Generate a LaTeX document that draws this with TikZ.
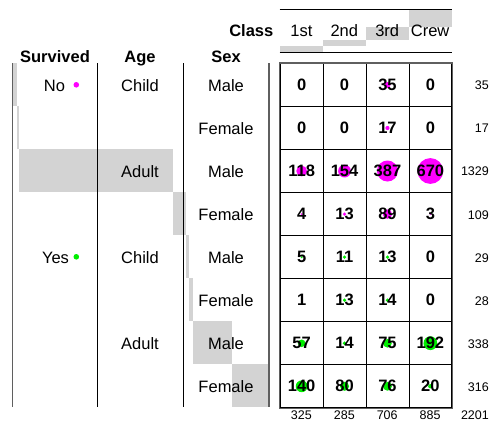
\documentclass[tikz,border=0pt]{standalone}
\usepackage{fontspec}
\setmainfont{Liberation Sans}
\usepackage{tikz}
\usetikzlibrary{backgrounds, matrix}
\definecolor{died}{RGB}{255,0,255}
\definecolor{lived}{RGB}{0,238,0}
\definecolor{bargray}{RGB}{211,211,211}
\definecolor{rulegray}{RGB}{95,95,95}
\tikzstyle{hdr} = [font=\fontsize{16.5}{18}\selectfont\bfseries, anchor=base, inner sep=0pt]
\tikzstyle{lbl} = [font=\fontsize{16.5}{18}\selectfont, anchor=base, inner sep=0pt]
\tikzstyle{tot} = [font=\fontsize{12.5}{14}\selectfont, anchor=base east, inner sep=0pt]
\tikzstyle{bar} = [fill=bargray, draw=none]
\tikzstyle{sep} = [draw=black, line width=0.8pt]
\tikzstyle{dot} = [circle, inner sep=0pt, minimum size=5.6pt]
\begin{document}
\begin{tikzpicture}[x=1pt, y=-1pt]
\useasboundingbox (0,0) rectangle (502,427);

% counts, magenta = No, green = Yes
\matrix [matrix of nodes, anchor=north west, inner sep=0pt, column sep=-0.8pt, row sep=-0.8pt, nodes={draw=black, line width=0.8pt, minimum width=42.9pt, minimum height=43pt, inner sep=0pt, outer sep=0pt, font=\fontsize{16.5}{18}\selectfont\bfseries}] (cells) at (279.6,62.9)
{
	0 & 0 & 35 & 0 \\
	0 & 0 & 17 & 0 \\
	118 & 154 & 387 & 670 \\
	4 & 13 & 89 & 3 \\
	5 & 11 & 13 & 0 \\
	1 & 13 & 14 & 0 \\
	57 & 14 & 75 & 192 \\
	140 & 80 & 76 & 20 \\
};
\draw [rulegray, line width=1.3pt] (cells.north west) rectangle (cells.south east);

\begin{scope}[on background layer]
	\fill [died] (cells-1-3) circle (3pt);
	\fill [died] (cells-2-3) circle (2.1pt);
	\fill [died] (cells-3-1) circle (5.4pt);
	\fill [died] (cells-3-2) circle (6.4pt);
	\fill [died] (cells-3-3) circle (10.5pt);
	\fill [died] (cells-3-4) circle (12.9pt);
	\fill [died] (cells-4-1) circle (1pt);
	\fill [died] (cells-4-2) circle (1.8pt);
	\fill [died] (cells-4-3) circle (4.7pt);
	\fill [died] (cells-4-4) circle (0.9pt);
	\fill [lived] (cells-5-1) circle (1.1pt);
	\fill [lived] (cells-5-2) circle (1.7pt);
	\fill [lived] (cells-5-3) circle (1.8pt);
	\fill [lived] (cells-6-1) circle (0.6pt);
	\fill [lived] (cells-6-2) circle (1.8pt);
	\fill [lived] (cells-6-3) circle (1.9pt);
	\fill [lived] (cells-7-1) circle (3.8pt);
	\fill [lived] (cells-7-2) circle (1.9pt);
	\fill [lived] (cells-7-3) circle (4.3pt);
	\fill [lived] (cells-7-4) circle (6.9pt);
	\fill [lived] (cells-8-1) circle (5.9pt);
	\fill [lived] (cells-8-2) circle (4.5pt);
	\fill [lived] (cells-8-3) circle (4.4pt);
	\fill [lived] (cells-8-4) circle (2.2pt);
	% Class margin
	\path [bar] (280,52.3) rectangle (322.9,45.95);
	\path [bar] (322.9,45.95) rectangle (365.8,40.38);
	\path [bar] (365.8,40.38) rectangle (408.7,26.59);
	\path [bar] (408.7,26.59) rectangle (451.6,9.3);
	% Survived x Age x Sex margin
	\path [bar] (12.7,63.3) rectangle (16.77,106.3);
	\path [bar] (16.77,106.3) rectangle (18.75,149.3);
	\path [bar] (18.75,149.3) rectangle (173.33,192.3);
	\path [bar] (173.33,192.3) rectangle (186.01,235.3);
	\path [bar] (186.01,235.3) rectangle (189.38,278.3);
	\path [bar] (189.38,278.3) rectangle (192.64,321.3);
	\path [bar] (192.64,321.3) rectangle (231.95,364.3);
	\path [bar] (231.95,364.3) rectangle (268.7,407.3);
\end{scope}

\draw [sep] (279.5,9.3) -- (451.6,9.3);
\draw [sep] (279.5,52.3) -- (451.6,52.3);
\draw [rulegray, line width=1pt] (12.7,63.3) -- (12.7,407.3);
\draw [sep] (97.7,63.3) -- (97.7,407.3);
\draw [sep] (183,63.3) -- (183,407.3);
\draw [rulegray, line width=2pt] (268.7,63.3) -- (268.7,407.3);

\node [hdr] (class) at (251.3,36.7) {Class};
\node [lbl] (first) at (301.4,37) {1st};
\node [lbl] (second) at (344.3,37) {2nd};
\node [lbl] (third) at (387.2,37) {3rd};
\node [lbl] (crew) at (430.1,37) {Crew};
\node [hdr] (survived) at (55,62.5) {Survived};
\node [hdr] (age) at (140,62.5) {Age};
\node [hdr] (sex) at (226,62.5) {Sex};

\node [lbl] (no) at (54.5,91.4) {No};
\node [dot, fill=died] (nodot) at (76.3,84.8) {};
\node [lbl] (yes) at (55.5,263.4) {Yes};
\node [dot, fill=lived] (yesdot) at (76.3,256.8) {};
\node [lbl] (child1) at (140,91.4) {Child};
\node [lbl] (adult1) at (140,177.4) {Adult};
\node [lbl] (child2) at (140,263.4) {Child};
\node [lbl] (adult2) at (140,349.4) {Adult};
\node [lbl] (sex1) at (226,91.4) {Male};
\node [lbl] (sex2) at (226,134.4) {Female};
\node [lbl] (sex3) at (226,177.4) {Male};
\node [lbl] (sex4) at (226,220.4) {Female};
\node [lbl] (sex5) at (226,263.4) {Male};
\node [lbl] (sex6) at (226,306.4) {Female};
\node [lbl] (sex7) at (226,349.4) {Male};
\node [lbl] (sex8) at (226,392.4) {Female};

\node [tot] (rt1) at (489,90) {35};
\node [tot] (rt2) at (489,133) {17};
\node [tot] (rt3) at (489,176) {1329};
\node [tot] (rt4) at (489,219) {109};
\node [tot] (rt5) at (489,262) {29};
\node [tot] (rt6) at (489,305) {28};
\node [tot] (rt7) at (489,348) {338};
\node [tot] (rt8) at (489,391) {316};
\node [tot, anchor=base] (ct1) at (301.4,419.3) {325};
\node [tot, anchor=base] (ct2) at (344.3,419.3) {285};
\node [tot, anchor=base] (ct3) at (387.2,419.3) {706};
\node [tot, anchor=base] (ct4) at (430.1,419.3) {885};
\node [tot] (total) at (489,419.3) {2201};

\end{tikzpicture}
\end{document}
